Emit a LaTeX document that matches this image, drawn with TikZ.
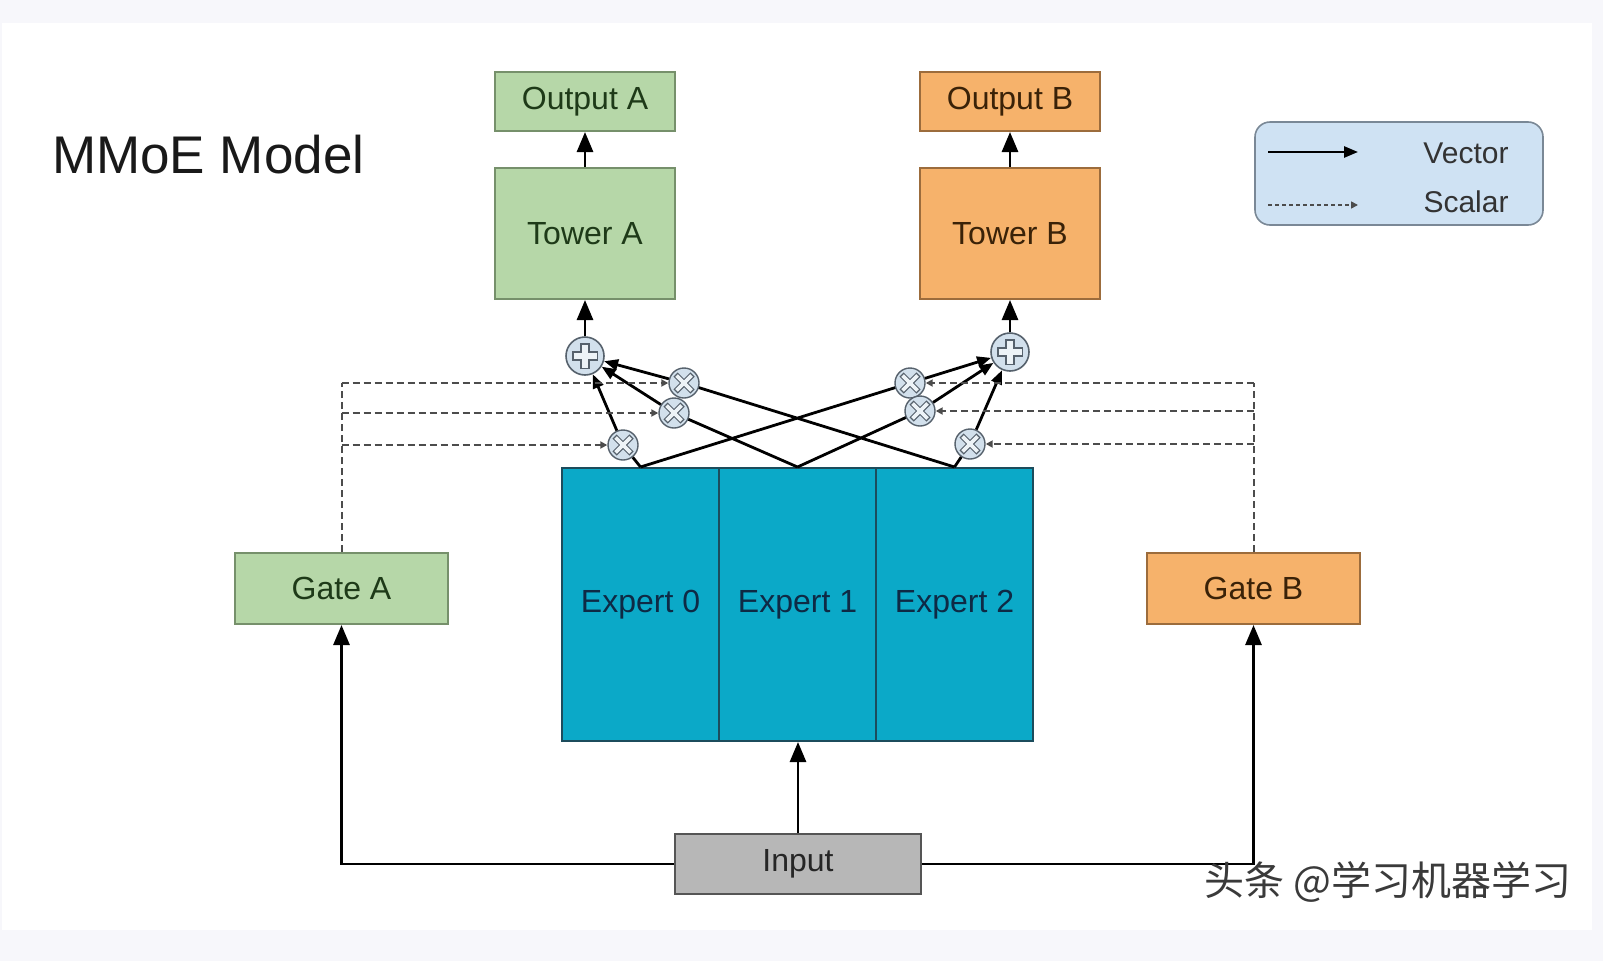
\documentclass[tikz,border=0pt]{standalone}
\usepackage{fontspec}
\setmainfont{Liberation Sans}
\newfontfamily\cjk{Noto Sans CJK SC}
\usetikzlibrary{arrows.meta}
\definecolor{pagebg}{HTML}{F7F7FB}
\definecolor{grnfill}{HTML}{B6D7A8}
\definecolor{grnline}{HTML}{76906B}
\definecolor{grntext}{HTML}{1E3A18}
\definecolor{orgfill}{HTML}{F6B26B}
\definecolor{orgline}{HTML}{9C6C3C}
\definecolor{orgtext}{HTML}{3A2208}
\definecolor{expfill}{HTML}{0BA9C8}
\definecolor{expline}{HTML}{1C4C5C}
\definecolor{exptext}{HTML}{0E2A45}
\definecolor{infill}{HTML}{B7B7B7}
\definecolor{inline}{HTML}{555555}
\definecolor{legfill}{HTML}{CFE2F3}
\definecolor{legline}{HTML}{7A8896}
\definecolor{opfill}{HTML}{D2E0EC}
\definecolor{opline}{HTML}{56616C}
\definecolor{wmtext}{HTML}{3A3A3A}

\begin{document}
\begin{tikzpicture}[x=1bp,y=-1bp,inner sep=0pt,
  box/.style={draw,line width=2bp,font=\fontsize{32bp}{38bp}\selectfont},
  greenbox/.style={box,fill=grnfill,draw=grnline,text=grntext},
  orangebox/.style={box,fill=orgfill,draw=orgline,text=orgtext},
  expbox/.style={box,fill=expfill,draw=expline,text=exptext,minimum width=157bp,minimum height=273bp},
  inbox/.style={box,fill=infill,draw=inline,text=black!85},
  sumop/.style={circle,draw=opline,fill=opfill,line width=1.6bp,minimum size=38bp,
    path picture={
      \draw[line width=10bp,color=opline] (path picture bounding box.center) ++(-13bp,0) -- ++(26bp,0)
        (path picture bounding box.center) ++(0,-13bp) -- ++(0,26bp);
      \draw[line width=6.5bp,color=opfill!40] (path picture bounding box.center) ++(-11.5bp,0) -- ++(23bp,0)
        (path picture bounding box.center) ++(0,-11.5bp) -- ++(0,23bp);}},
  mulop/.style={circle,draw=opline,fill=opfill,line width=1.4bp,minimum size=30bp,
    path picture={
      \draw[line width=6bp,color=opline] (path picture bounding box.center) ++(-8.5bp,-8.5bp) -- ++(17bp,17bp)
        (path picture bounding box.center) ++(-8.5bp,8.5bp) -- ++(17bp,-17bp);
      \draw[line width=3.6bp,color=opfill!40] (path picture bounding box.center) ++(-7.5bp,-7.5bp) -- ++(15bp,15bp)
        (path picture bounding box.center) ++(-7.5bp,7.5bp) -- ++(15bp,-15bp);}},
  vec/.style={line width=2.8bp,-{Triangle[length=20bp,width=16bp]}},
  vecs/.style={line width=2.8bp,-{Triangle[length=14bp,width=11bp]}},
  link/.style={line width=2.8bp},
  scal/.style={line width=2bp,dash pattern=on 7bp off 4bp,color=black!70,-{Triangle[length=7bp,width=7bp]}},
  legtext/.style={font=\fontsize{30bp}{36bp}\selectfont,text=black!80,anchor=base}]
\useasboundingbox (0,0) rectangle (1603,961);
\fill[pagebg] (0,0) rectangle (1603,961);
\fill[white] (2,23) rectangle (1592,930);

\node[anchor=base west,font=\fontsize{53bp}{60bp}\selectfont,text=black!90] (title) at (52,173) {MMoE Model};

\node[greenbox,minimum width=180bp,minimum height=59bp] (outA) at (585,101.5) {Output A};
\node[greenbox,minimum width=180bp,minimum height=131bp] (towA) at (585,233.5) {Tower A};
\node[orangebox,minimum width=180bp,minimum height=59bp] (outB) at (1010,101.5) {Output B};
\node[orangebox,minimum width=180bp,minimum height=131bp] (towB) at (1010,233.5) {Tower B};

\node[expbox] (exp0) at (640.5,604.5) {Expert 0};
\node[expbox] (exp1) at (797.5,604.5) {Expert 1};
\node[expbox] (exp2) at (954.5,604.5) {Expert 2};

\node[greenbox,minimum width=213bp,minimum height=71bp] (gateA) at (341.5,588.5) {Gate A};
\node[orangebox,minimum width=213bp,minimum height=71bp] (gateB) at (1253.5,588.5) {Gate B};
\node[inbox,minimum width=246bp,minimum height=60bp] (input) at (798,864) {Input};

\draw[link] (exp0.north) -- (910,383) (exp1.north) -- (674,413) (exp1.north) -- (920,411) (exp2.north) -- (684,383);
\node[mulop] (mA0) at (623,445) {};
\node[mulop] (mA1) at (674,413) {};
\node[mulop] (mA2) at (684,383) {};
\node[mulop] (mB0) at (910,383) {};
\node[mulop] (mB1) at (920,411) {};
\node[mulop] (mB2) at (970,444) {};
\node[sumop] (sumA) at (585,356) {};
\node[sumop] (sumB) at (1010,352) {};

\draw[link] (exp0.north) -- (mA0);
\draw[link] (exp2.north) -- (mB2);
\foreach \m in {mA0,mA1,mA2} \draw[vecs] (\m) -- (sumA);
\foreach \m in {mB0,mB1,mB2} \draw[vecs] (\m) -- (sumB);
\draw[vec] (sumA) -- (towA);
\draw[vec] (sumB) -- (towB);
\draw[vec] (towA) -- (outA);
\draw[vec] (towB) -- (outB);

\draw[scal,-] (gateA.north) -- (gateA.north |- mA2);
\foreach \m in {mA0,mA1,mA2} \draw[scal] (gateA.north |- \m) -- (\m);
\draw[scal,-] (gateB.north) -- (gateB.north |- mB0);
\foreach \m in {mB0,mB1,mB2} \draw[scal] (gateB.north |- \m) -- (\m);

\draw[vec] (input.north) -- (input.north |- exp1.south);
\draw[vec] (input.west) -| (gateA.south);
\draw[vec] (input.east) -| (gateB.south);

\node[draw=legline,fill=legfill,line width=1.6bp,rounded corners=15bp,minimum width=288bp,minimum height=103bp] (legend) at (1399,173.5) {};
\coordinate (vecS) at (1268,152);
\coordinate (vecE) at (1358,152);
\coordinate (scaS) at (1268,205);
\coordinate (scaE) at (1358,205);
\draw[vecs,line width=2.6bp] (vecS) -- (vecE);
\draw[scal,line width=1.6bp,dash pattern=on 4bp off 3bp] (scaS) -- (scaE);
\node[legtext] (vectxt) at (1466,163) {Vector};
\node[legtext] (scatxt) at (1466,212) {Scalar};

\node[font=\cjk\fontsize{40bp}{48bp}\selectfont,text=wmtext] (wmk) at (1388,882) {头条 @学习机器学习};
\end{tikzpicture}
\end{document}
